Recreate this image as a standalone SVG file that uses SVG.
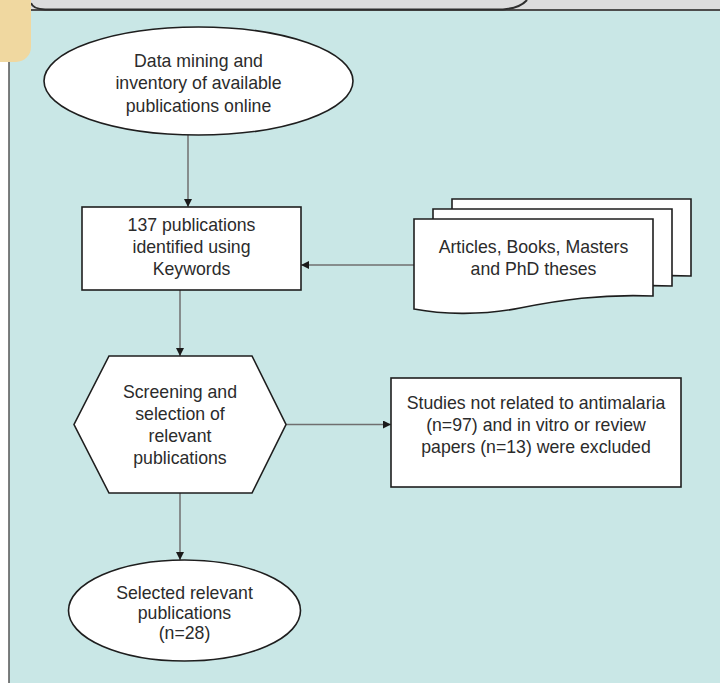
<svg xmlns="http://www.w3.org/2000/svg" width="720" height="683" viewBox="0 0 720 683">
<style>
.shape{fill:#ffffff;stroke:#1e1e1e;stroke-width:1.6}
.conn{stroke:#6f6f6f;stroke-width:1.5;fill:none}
.lbl{font-family:"Liberation Sans",Arial,sans-serif;font-size:17.7px;fill:#2b2b2b;text-anchor:middle}
</style>
<defs>
<marker id="arr" viewBox="0 0 10 10" refX="10" refY="5" markerWidth="10" markerHeight="8" markerUnits="userSpaceOnUse" orient="auto">
<path d="M0,0 L10,5 L0,10 Z" fill="#1a1a1a"/>
</marker>
<path id="doc" d="M414,219 H653 V296 C600,294 560,300 520,308 C480,316 440,314 414,309 Z"/>
</defs>
<g id="panel">
<rect x="0" y="0" width="720" height="683" fill="#ffffff"/>
<rect x="9" y="10" width="711" height="673" fill="#c9e7e6"/>
<rect x="0" y="0" width="720" height="10" fill="#dcdcdd"/>
<line x1="31" y1="10" x2="720" y2="10" stroke="#4d4d4d" stroke-width="2"/>
<line x1="9" y1="62" x2="9" y2="683" stroke="#555555" stroke-width="1.5"/>
<path d="M31,3 Q33,9 45,9.5 H503 Q520,8 527,0" fill="#dcdcdd" stroke="#2e2e2e" stroke-width="2"/>
<path d="M0,0 H31 V47 A15,15 0 0 1 16,62 H0 Z" fill="#f0d8a0"/>
</g>
<g id="connectors">
<line class="conn" x1="188" y1="135" x2="188" y2="207" marker-end="url(#arr)"/>
<line class="conn" x1="180" y1="290" x2="180" y2="356" marker-end="url(#arr)"/>
<line class="conn" x1="414" y1="265" x2="301" y2="265" marker-end="url(#arr)"/>
<line class="conn" x1="286" y1="424.5" x2="391" y2="424.5" marker-end="url(#arr)"/>
<line class="conn" x1="180" y1="493" x2="180" y2="560" marker-end="url(#arr)"/>
</g>
<g id="start">
<ellipse class="shape" cx="198.5" cy="81" rx="154.5" ry="54"/>
<text class="lbl"><tspan x="198.5" y="66.7">Data mining and</tspan><tspan x="198.5" y="89.2">inventory of available</tspan><tspan x="198.5" y="111.7">publications online</tspan></text>
</g>
<g id="identified">
<rect class="shape" x="82" y="207" width="219" height="83"/>
<text class="lbl"><tspan x="191.5" y="230.7">137 publications</tspan><tspan x="191.5" y="253">identified using</tspan><tspan x="191.5" y="275.3">Keywords</tspan></text>
</g>
<g id="sources">
<use href="#doc" class="shape" transform="translate(38,-20)"/>
<use href="#doc" class="shape" transform="translate(19,-10)"/>
<use href="#doc" class="shape"/>
<text class="lbl"><tspan x="533.5" y="253.3">Articles, Books, Masters</tspan><tspan x="533.5" y="275">and PhD theses</tspan></text>
</g>
<g id="screening">
<polygon class="shape" points="109,356 252,356 286,424.5 252,493 109,493 74,424.5"/>
<text class="lbl"><tspan x="180" y="398.3">Screening and</tspan><tspan x="180" y="420.3">selection of</tspan><tspan x="180" y="442.3">relevant</tspan><tspan x="180" y="464.3">publications</tspan></text>
</g>
<g id="excluded">
<rect class="shape" x="391" y="378" width="290" height="109"/>
<text class="lbl"><tspan x="536" y="409.3">Studies not related to antimalaria</tspan><tspan x="536" y="431">(n=97) and in vitro or review</tspan><tspan x="536" y="452.7">papers (n=13) were excluded</tspan></text>
</g>
<g id="selected">
<ellipse class="shape" cx="184.5" cy="610.5" rx="116" ry="50.5"/>
<text class="lbl"><tspan x="184.5" y="599">Selected relevant</tspan><tspan x="184.5" y="619">publications</tspan><tspan x="184.5" y="639">(n=28)</tspan></text>
</g>
</svg>
